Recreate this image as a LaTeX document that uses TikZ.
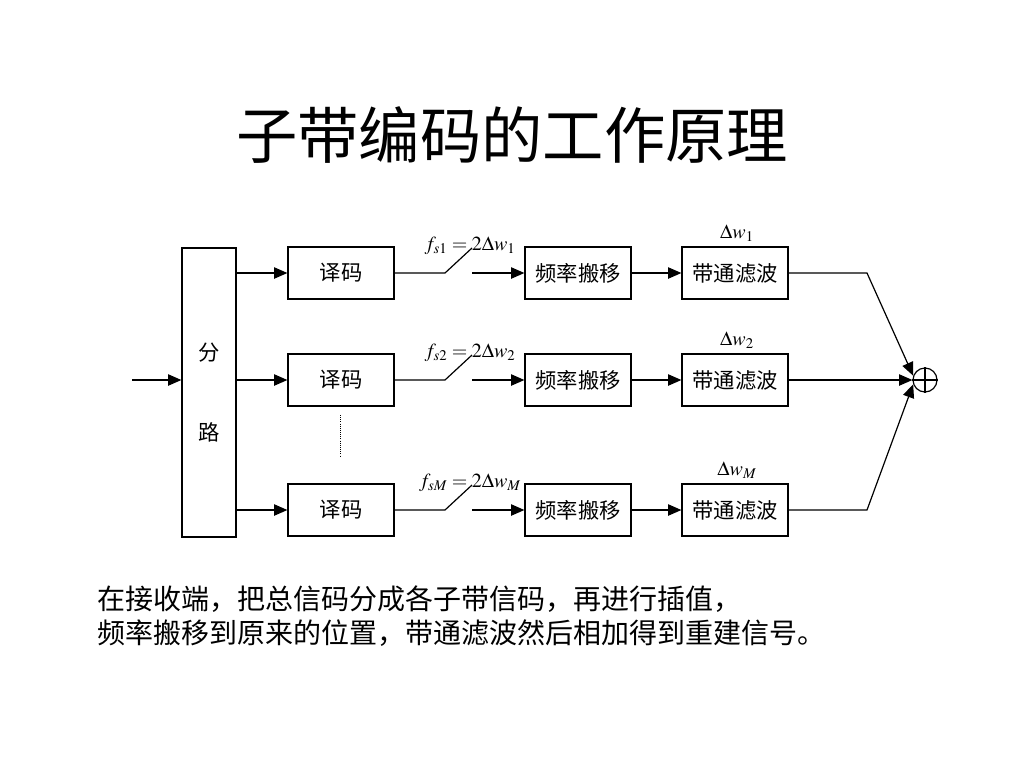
\documentclass[tikz,border=0pt]{standalone}
\usepackage{mathptmx}
\usepackage{fontspec}
\setmainfont{Liberation Serif}
\newfontfamily\cjk{Noto Sans CJK SC}
\usetikzlibrary{arrows.meta,positioning,calc}
\tikzset{
  blk/.style={draw, minimum width=79.5pt, minimum height=39pt, inner sep=0pt,
    font=\cjk\fontsize{16}{16}\selectfont},
  arr/.style={-{Triangle[length=10pt,width=8.5pt]}}
}
\begin{document}
\begin{tikzpicture}[x=0.75pt,y=-0.75pt,line width=0.9pt]
    \useasboundingbox (0,0) rectangle (1024,768);
    \node (title) at (512,135) {\cjk\fontsize{46}{46}\selectfont 子带编码的工作原理};
    % splitter
    \node[draw, minimum width=40.5pt, minimum height=216.75pt] (split) at (209,392.5) {};
    \node[font=\cjk\fontsize{16}{16}\selectfont] (fen) at (209,353) {分};
    \node[font=\cjk\fontsize{16}{16}\selectfont] (lu) at (209,432) {路};
    \coordinate (in) at (132,380);
    \draw[arr] (in) -- (split.west |- in);
    % adder
    \node[circle, draw, minimum size=18pt, inner sep=0pt] (sum) at (925,380) {};
    \draw (sum.north) -- (sum.south) (sum.west) -- (sum.east);
    % branches
    \foreach \r/\y/\i in {1/273/1, 2/380/2, 3/510/M}{
        \node[blk] (dec\r) at (341,\y) {译码};
        \node[blk] (frq\r) at (578,\y) {频率搬移};
        \node[blk] (bpf\r) at (735,\y) {带通滤波};
        \draw[arr] (split.east |- dec\r.west) -- (dec\r.west);
        \coordinate (sw\r) at (445,\y);
        \coordinate (sr\r) at (472,\y);
        \draw (dec\r.east) -- (sw\r) -- ++(27,-25);
        \draw[arr] (sr\r) -- (frq\r.west);
        \draw[arr] (frq\r.east) -- (bpf\r.west);
        \node[font=\fontsize{15}{15}\selectfont] (fs\r) at (470,\y-27) {$f_{s\i}=2\Delta w_\i$};
        \node[font=\fontsize{15}{15}\selectfont] (dw\r) at (737,\y-40) {$\Delta w_\i$};
        \coordinate (k\r) at (867,\y);
    }
    \draw[arr] (bpf1.east) -- (k1) -- (sum.160);
    \draw[arr] (bpf2.east) -- (sum.west);
    \draw[arr] (bpf3.east) -- (k3) -- (sum.200);
    \draw[densely dotted, line width=0.6pt] (340,415) -- (340,457);
    % note
    \node[anchor=north west, align=left, inner sep=0pt,
      font=\cjk\fontsize{21}{25.5}\selectfont] (note) at (97,585)
      {在接收端，把总信码分成各子带信码，再进行插值，\\频率搬移到原来的位置，带通滤波然后相加得到重建信号。};
\end{tikzpicture}
\end{document}
